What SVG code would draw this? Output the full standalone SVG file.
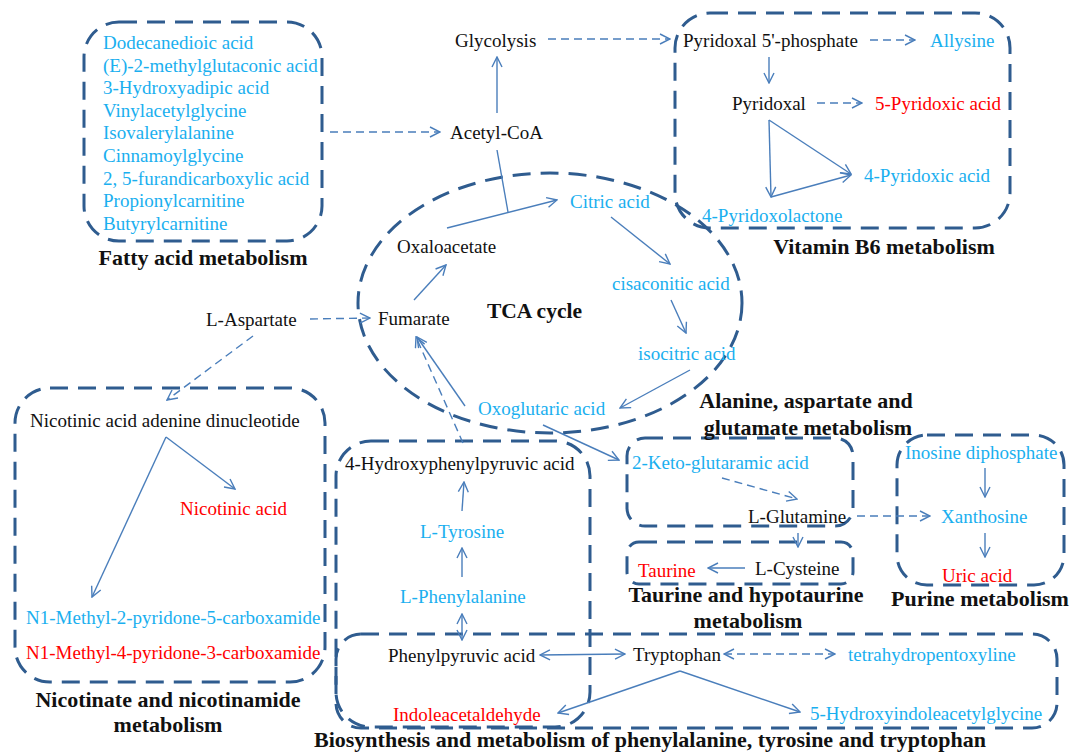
<svg xmlns="http://www.w3.org/2000/svg" width="1080" height="752" viewBox="0 0 1080 752">
<defs>
<style>
.box{fill:none;stroke:#2F5C8F;stroke-width:3;stroke-dasharray:18 10}
.t{font-size:19px}
.k{fill:#111}
.b{fill:#1AAFEF}
.r{fill:#FF0000}
.h{font-weight:bold;font-size:22px;fill:#111}
.a{fill:none;stroke:#4A7EBB;stroke-width:1.4}
.d{stroke-dasharray:8 5}
</style>
<marker id="ar" viewBox="0 0 12 12" refX="11" refY="6" markerWidth="12" markerHeight="12" markerUnits="userSpaceOnUse" orient="auto-start-reverse">
<path d="M1,1 L11,6 L1,11" fill="none" stroke="#4A7EBB" stroke-width="1.4"/>
</marker>
</defs>
<rect width="1080" height="752" fill="#fff"/>
<g font-family="'Liberation Serif', 'Times New Roman', serif">

<g id="fatty-acid-metabolism">
<rect class="box" x="84" y="22" width="238" height="219" rx="35"/>
<text class="t b" x="103" y="49">Dodecanedioic acid</text>
<text class="t b" x="103" y="72">(E)-2-methylglutaconic acid</text>
<text class="t b" x="103" y="94">3-Hydroxyadipic acid</text>
<text class="t b" x="103" y="117">Vinylacetylglycine</text>
<text class="t b" x="103" y="139">Isovalerylalanine</text>
<text class="t b" x="103" y="162">Cinnamoylglycine</text>
<text class="t b" x="103" y="185">2, 5-furandicarboxylic acid</text>
<text class="t b" x="103" y="207">Propionylcarnitine</text>
<text class="t b" x="103" y="230">Butyrylcarnitine</text>
<text class="h" x="203" y="265" text-anchor="middle">Fatty acid metabolism</text>
</g>

<g id="glycolysis"><text class="t k" x="455" y="47">Glycolysis</text></g>
<g id="acetyl-coa"><text class="t k" x="450" y="139">Acetyl-CoA</text></g>

<g id="vitamin-b6-metabolism">
<rect class="box" x="675" y="13" width="335" height="215" rx="35"/>
<text class="t k" x="683" y="47">Pyridoxal 5'-phosphate</text>
<text class="t b" x="930" y="47">Allysine</text>
<text class="t k" x="732" y="110">Pyridoxal</text>
<text class="t r" x="875" y="110">5-Pyridoxic acid</text>
<text class="t b" x="864" y="182">4-Pyridoxic acid</text>
<text class="t b" x="702" y="222">4-Pyridoxolactone</text>
<text class="h" x="884" y="254" text-anchor="middle">Vitamin B6 metabolism</text>
</g>

<g id="tca-cycle">
<ellipse class="box" cx="550" cy="303" rx="192" ry="130"/>
<text class="t k" x="397" y="253">Oxaloacetate</text>
<text class="t b" x="570" y="208">Citric acid</text>
<text class="t b" x="612" y="290">cisaconitic acid</text>
<text class="t b" x="638" y="360">isocitric acid</text>
<text class="t b" x="478" y="415">Oxoglutaric acid</text>
<text class="t k" x="378" y="325">Fumarate</text>
<text class="h" x="487" y="318" style="font-size:21.5px">TCA cycle</text>
</g>

<g id="l-aspartate"><text class="t k" x="206" y="326">L-Aspartate</text></g>

<g id="nicotinate-and-nicotinamide-metabolism">
<rect class="box" x="15" y="388" width="310" height="294" rx="35"/>
<text class="t k" x="30" y="427">Nicotinic acid adenine dinucleotide</text>
<text class="t r" x="180" y="515">Nicotinic acid</text>
<text class="t b" x="26" y="624">N1-Methyl-2-pyridone-5-carboxamide</text>
<text class="t r" x="26" y="659">N1-Methyl-4-pyridone-3-carboxamide</text>
<text class="h" x="168" y="707" text-anchor="middle">Nicotinate and nicotinamide</text>
<text class="h" x="168" y="732" text-anchor="middle">metabolism</text>
</g>

<g id="tyrosine-box">
<rect class="box" x="336" y="441" width="254" height="286" rx="35"/>
<text class="t k" x="345" y="470">4-Hydroxyphenylpyruvic acid</text>
<text class="t b" x="420" y="538">L-Tyrosine</text>
<text class="t b" x="400" y="603">L-Phenylalanine</text>
</g>

<g id="phenylalanine-tyrosine-tryptophan">
<rect class="box" x="336" y="634" width="721" height="94" rx="25"/>
<text class="t k" x="388" y="662">Phenylpyruvic acid</text>
<text class="t k" x="633" y="661">Tryptophan</text>
<text class="t b" x="848" y="661">tetrahydropentoxyline</text>
<text class="t r" x="393" y="721">Indoleacetaldehyde</text>
<text class="t b" x="810" y="720">5-Hydroxyindoleacetylglycine</text>
<text class="h" x="650" y="747" text-anchor="middle">Biosynthesis and metabolism of phenylalanine, tyrosine and tryptophan</text>
</g>

<g id="alanine-aspartate-glutamate-metabolism">
<rect class="box" x="627" y="438" width="226" height="88" rx="18"/>
<text class="t b" x="632" y="469">2-Keto-glutaramic acid</text>
<text class="t k" x="748" y="523">L-Glutamine</text>
<text class="h" x="806" y="408" text-anchor="middle">Alanine, aspartate and</text>
<text class="h" x="808" y="435" text-anchor="middle">glutamate metabolism</text>
</g>

<g id="taurine-and-hypotaurine-metabolism">
<rect class="box" x="627" y="542" width="226" height="42" rx="12"/>
<text class="t r" x="638" y="577">Taurine</text>
<text class="t k" x="755" y="575">L-Cysteine</text>
<text class="h" x="746" y="602" text-anchor="middle">Taurine and hypotaurine</text>
<text class="h" x="748" y="628" text-anchor="middle">metabolism</text>
</g>

<g id="purine-metabolism">
<rect class="box" x="897" y="435" width="167" height="150" rx="30"/>
<text class="t b" x="905" y="459">Inosine diphosphate</text>
<text class="t b" x="941" y="523">Xanthosine</text>
<text class="t r" x="942" y="582">Uric acid</text>
<text class="h" x="980" y="606" text-anchor="middle">Purine metabolism</text>
</g>
</g>

<g id="connectors">
<line class="a d" x1="330" y1="132" x2="440" y2="132" marker-end="url(#ar)"/>
<line class="a d" x1="548" y1="39" x2="670" y2="39" marker-end="url(#ar)"/>
<line class="a" x1="497" y1="113" x2="497" y2="57" marker-end="url(#ar)"/>
<line class="a d" x1="870" y1="40" x2="915" y2="40" marker-end="url(#ar)"/>
<line class="a" x1="769" y1="57" x2="769" y2="83" marker-end="url(#ar)"/>
<line class="a d" x1="817" y1="103" x2="862" y2="103" marker-end="url(#ar)"/>
<line class="a" x1="769" y1="120" x2="851" y2="174" marker-end="url(#ar)"/>
<line class="a" x1="769" y1="120" x2="771" y2="197" marker-end="url(#ar)"/>
<line class="a" x1="771" y1="197" x2="851" y2="175" marker-end="url(#ar)"/>
<line class="a" x1="447" y1="228" x2="557" y2="200" marker-end="url(#ar)"/>
<line class="a" x1="497" y1="150" x2="508" y2="212"/>
<line class="a" x1="611" y1="217" x2="670" y2="264" marker-end="url(#ar)"/>
<line class="a" x1="671" y1="300" x2="686" y2="333" marker-end="url(#ar)"/>
<line class="a" x1="690" y1="370" x2="620" y2="408" marker-end="url(#ar)"/>
<line class="a" x1="414" y1="300" x2="446" y2="265" marker-end="url(#ar)"/>
<line class="a d" x1="310" y1="319" x2="370" y2="318" marker-end="url(#ar)"/>
<line class="a d" x1="253" y1="336" x2="167" y2="400" marker-end="url(#ar)"/>
<line class="a" x1="465" y1="406" x2="417" y2="337" marker-end="url(#ar)"/>
<line class="a d" x1="463" y1="443" x2="416" y2="337" marker-end="url(#ar)"/>
<line class="a" x1="543" y1="425" x2="619" y2="460" marker-end="url(#ar)"/>
<line class="a" x1="166" y1="437" x2="235" y2="489" marker-end="url(#ar)"/>
<line class="a" x1="166" y1="437" x2="92" y2="597" marker-end="url(#ar)"/>
<line class="a" x1="462" y1="511" x2="464" y2="482" marker-end="url(#ar)"/>
<line class="a" x1="462" y1="577" x2="462" y2="548" marker-end="url(#ar)"/>
<line class="a" x1="462" y1="614" x2="462" y2="640" marker-start="url(#ar)" marker-end="url(#ar)"/>
<line class="a" x1="540" y1="655" x2="625" y2="654" marker-start="url(#ar)" marker-end="url(#ar)"/>
<line class="a d" x1="724" y1="654" x2="835" y2="654" marker-start="url(#ar)" marker-end="url(#ar)"/>
<polyline class="a" points="680,671 558,713" marker-end="url(#ar)"/>
<polyline class="a" points="680,671 800,712" marker-end="url(#ar)"/>
<line class="a d" x1="722" y1="478" x2="797" y2="499" marker-end="url(#ar)"/>
<line class="a d" x1="857" y1="516" x2="930" y2="516" marker-end="url(#ar)"/>
<line class="a" x1="798" y1="533" x2="798" y2="547" marker-end="url(#ar)"/>
<line class="a" x1="745" y1="568" x2="708" y2="568" marker-end="url(#ar)"/>
<line class="a" x1="985" y1="468" x2="985" y2="497" marker-end="url(#ar)"/>
<line class="a" x1="985" y1="533" x2="985" y2="557" marker-end="url(#ar)"/>
</g>
</svg>
